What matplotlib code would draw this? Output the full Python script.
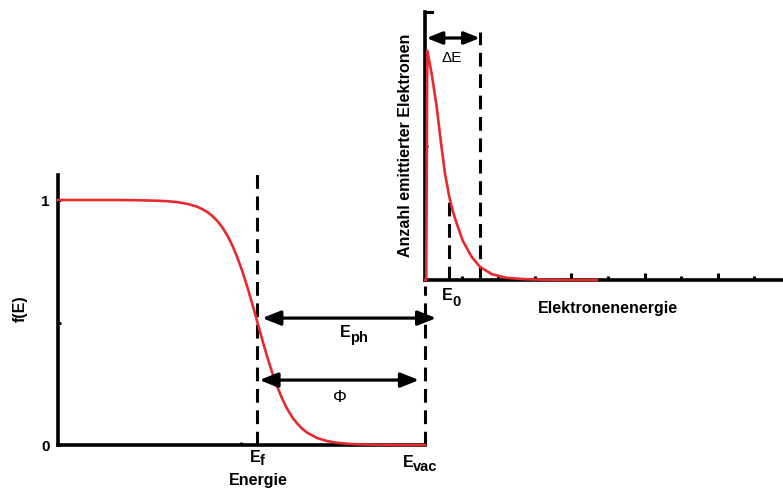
import matplotlib.pyplot as plt

plt.rcParams['font.family'] = ['Liberation Sans', 'DejaVu Sans']
plt.rcParams['font.weight'] = 'bold'

# Fermi-Dirac distribution (energy relative to E_f)
fermi_E = [-5.0, -3.5, -3.0, -2.5, -2.25, -2.0, -1.75, -1.5, -1.375, -1.25, -1.125,
           -1.0, -0.875, -0.75, -0.625, -0.5, -0.375, -0.25, -0.125, 0.0, 0.125,
           0.25, 0.375, 0.5, 0.625, 0.75, 0.875, 1.0, 1.125, 1.25, 1.5, 1.75,
           2.0, 2.25, 2.5, 3.0, 3.5, 4.2]
fermi_f = [1.0, 1.0, 0.999, 0.997, 0.995, 0.991, 0.984, 0.972, 0.962, 0.950, 0.934,
           0.913, 0.887, 0.854, 0.813, 0.764, 0.707, 0.643, 0.573, 0.5, 0.427,
           0.357, 0.293, 0.236, 0.187, 0.146, 0.113, 0.087, 0.066, 0.050, 0.028, 0.016,
           0.009, 0.005, 0.003, 0.001, 0.0, 0.0]
E_f = 0.0
E_vac = 4.2

# emitted electron spectrum (electron energy, count)
spec_E = [0.0, 0.033, 0.063, 0.183, 0.320, 0.429, 0.546, 0.664, 0.765, 0.866,
          1.030, 1.276, 1.503, 1.822, 2.232, 2.732, 3.279, 3.825, 4.699]
spec_N = [0.0, 0.0, 0.856, 0.769, 0.646, 0.521, 0.397, 0.310, 0.254, 0.211,
          0.147, 0.086, 0.049, 0.022, 0.008, 0.003, 0.001, 0.0, 0.0]
E_0 = 0.665
E_dE = 1.50

red = '#e62a2e'
dash = (0, (4.5, 2.5))
W, H = 783, 490

fig = plt.figure(figsize=(W / 100, H / 100), dpi=100)


def px(x, y):
    return x / W, 1 - y / H


def sub_label(xe, ye, sub, xs, ys):
    fig.text(*px(xe, ye), 'E', fontsize=11.5, ha='center', va='center')
    fig.text(*px(xs, ys), sub, fontsize=10.5, ha='left', va='center')


# ---- left panel: f(E) ----
ax1 = fig.add_axes([58 / W, 45 / H, 367 / W, 269.5 / H])
ax1.plot(fermi_E, fermi_f, color=red, lw=1.9, zorder=3, clip_on=False)
ax1.set_xlim(-5.0, E_vac)
ax1.set_ylim(0, 1.10)
for s in ['top', 'right']:
    ax1.spines[s].set_visible(False)
for s in ['left', 'bottom']:
    ax1.spines[s].set_linewidth(2.6)
ax1.set_yticks([0, 0.5, 1])
ax1.set_yticklabels(['0', '', '1'], fontsize=11, fontweight='bold')
ax1.tick_params(axis='y', direction='in', length=2, width=2, pad=6)
ax1.set_xticks([-0.42])
ax1.set_xticklabels([''])
ax1.tick_params(axis='x', direction='in', length=2, width=2)

ax1.plot([E_f, E_f], [0, 1.12], color='black', lw=2.2, ls=dash, clip_on=False)
ax1.plot([E_vac, E_vac], [0, 0.65], color='black', lw=2.2, ls=dash, clip_on=False)

arrow = dict(arrowstyle='<|-|>,head_length=0.55,head_width=0.22', color='black',
             lw=2.3, shrinkA=0, shrinkB=0, mutation_scale=20)
ax1.annotate('', xy=(0.12, 0.518), xytext=(4.48, 0.518), arrowprops=arrow,
             annotation_clip=False)
ax1.annotate('', xy=(0.05, 0.265), xytext=(4.05, 0.265), arrowprops=arrow,
             annotation_clip=False)
sub_label(345, 332, 'ph', 350, 338)
fig.text(*px(340, 397), 'Φ', fontsize=12.5, fontweight='normal', ha='center', va='center')

sub_label(255, 457.5, 'f', 259.5, 460.5)
sub_label(408.5, 462, 'vac', 413, 467)
fig.text(*px(258, 480), 'Energie', fontsize=11.5, ha='center', va='center')
fig.text(*px(20, 309), 'f(E)', fontsize=11.5, rotation=90, ha='center', va='center')

# ---- right panel: spectrum ----
ax2 = fig.add_axes([425 / W, 210 / H, 358 / W, 268 / H])
ax2.plot(spec_E, spec_N, color=red, lw=1.9, zorder=3, clip_on=False)
ax2.set_xlim(0, 9.78)
ax2.set_ylim(0, 1)
for s in ['top', 'right']:
    ax2.spines[s].set_visible(False)
for s in ['left', 'bottom']:
    ax2.spines[s].set_linewidth(2.6)
ax2.set_xticks([4, 6, 8])
ax2.set_xticks([1, 2, 3, 5, 7, 9], minor=True)
ax2.set_xticklabels([])
ax2.tick_params(axis='x', which='major', direction='in', length=5, width=2.2)
ax2.tick_params(axis='x', which='minor', direction='in', length=3, width=2.2)
ax2.set_yticks([0.5, 1.0])
ax2.set_yticklabels([])
ax2.tick_params(axis='y', direction='in', length=2, width=2)
ax2.plot([0, 0.2], [1.0, 1.0], color='black', lw=2.2, clip_on=False)

ax2.plot([E_0, E_0], [0, 0.31], color='black', lw=2.2, ls=dash, clip_on=False)
ax2.plot([E_dE, E_dE], [0, 0.925], color='black', lw=2.2, ls=dash, clip_on=False)
ax2.annotate('', xy=(0.04, 0.903), xytext=(E_dE, 0.903),
             arrowprops=dict(arrow, mutation_scale=17), annotation_clip=False)
fig.text(*px(452, 58), 'ΔE', fontsize=11, fontweight='normal', ha='center', va='center')
sub_label(447.5, 295, '0', 452, 301.5)
fig.text(*px(608, 308), 'Elektronenenergie', fontsize=11.5, ha='center', va='center')
fig.text(*px(405, 145), 'Anzahl emittierter Elektronen', fontsize=11.5,
         rotation=90, ha='center', va='center')

fig.savefig('out.png', dpi=100)
